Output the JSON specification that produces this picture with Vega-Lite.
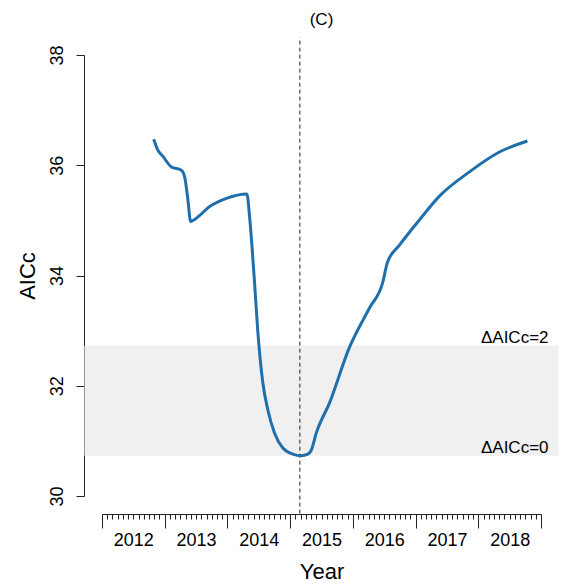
{
  "$schema": "https://vega.github.io/schema/vega-lite/v6.json",
  "width": 439,
  "height": 441,
  "autosize": {"type": "none"},
  "padding": {"left": 102, "top": 55, "right": 22, "bottom": 91},
  "title": {"text": "(C)", "fontSize": 17, "font": "Liberation Sans", "fontWeight": "normal", "color": "#000000", "offset": 8, "anchor": "middle"},
  "datasets": {
    "curve": [
      {"year": 2012.824, "aicc": 36.47},
      {"year": 2012.888, "aicc": 36.28},
      {"year": 2012.972, "aicc": 36.16},
      {"year": 2013.106, "aicc": 35.97},
      {"year": 2013.265, "aicc": 35.91},
      {"year": 2013.318, "aicc": 35.79},
      {"year": 2013.370, "aicc": 35.37},
      {"year": 2013.413, "aicc": 34.98},
      {"year": 2013.504, "aicc": 35.04},
      {"year": 2013.716, "aicc": 35.25},
      {"year": 2013.982, "aicc": 35.40},
      {"year": 2014.310, "aicc": 35.48},
      {"year": 2014.353, "aicc": 35.07},
      {"year": 2014.396, "aicc": 34.46},
      {"year": 2014.433, "aicc": 33.86},
      {"year": 2014.486, "aicc": 32.96},
      {"year": 2014.565, "aicc": 32.05},
      {"year": 2014.645, "aicc": 31.56},
      {"year": 2014.752, "aicc": 31.14},
      {"year": 2014.884, "aicc": 30.87},
      {"year": 2015.043, "aicc": 30.76},
      {"year": 2015.177, "aicc": 30.73},
      {"year": 2015.282, "aicc": 30.76},
      {"year": 2015.336, "aicc": 30.83},
      {"year": 2015.416, "aicc": 31.14},
      {"year": 2015.628, "aicc": 31.69},
      {"year": 2015.947, "aicc": 32.70},
      {"year": 2016.265, "aicc": 33.41},
      {"year": 2016.473, "aicc": 33.86},
      {"year": 2016.552, "aicc": 34.24},
      {"year": 2016.743, "aicc": 34.55},
      {"year": 2017.062, "aicc": 35.01},
      {"year": 2017.381, "aicc": 35.44},
      {"year": 2017.859, "aicc": 35.88},
      {"year": 2018.337, "aicc": 36.24},
      {"year": 2018.783, "aicc": 36.44}
    ],
    "bands": [
      {"label": "ΔAICc=0", "aicc": 30.73},
      {"label": "ΔAICc=2", "aicc": 32.73}
    ],
    "band": [
      {"lo": 30.73, "hi": 32.73}
    ],
    "best": [
      {"year": 2015.155}
    ]
  },
  "config": {
    "view": {"stroke": null},
    "font": "Liberation Sans",
    "axis": {"grid": false, "domainColor": "#222222", "tickColor": "#222222", "labelColor": "#000000", "titleColor": "#000000", "labelFont": "Liberation Sans", "titleFont": "Liberation Sans", "titleFontWeight": "normal"}
  },
  "resolve": {"scale": {"x": "shared", "y": "shared"}, "axis": {"x": "independent"}},
  "layer": [
    {
      "data": {"name": "band"},
      "mark": {"type": "rect", "color": "#f0f0f0"},
      "encoding": {
        "x": {"datum": 2011.72, "type": "quantitative", "scale": {"domain": [2012, 2019], "nice": false, "zero": false}, "axis": {"orient": "bottom", "offset": 18, "values": [2012, 2013, 2014, 2015, 2016, 2017, 2018, 2019], "tickSize": 14, "labels": false, "domain": true, "title": null}},
        "x2": {"datum": 2019.28},
        "y": {"field": "lo", "type": "quantitative", "title": "AICc", "scale": {"domain": [30, 38], "nice": false, "zero": false}, "axis": {"orient": "left", "offset": 18, "values": [30, 32, 34, 36, 38], "tickSize": 8, "labelAngle": -90, "labelAlign": "center", "labelBaseline": "bottom", "labelPadding": 10, "labelFontSize": 18, "titleFontSize": 22, "titlePadding": 9}},
        "y2": {"field": "hi"}
      }
    },
    {
      "data": {"name": "best"},
      "mark": {"type": "rule", "color": "#222222", "strokeWidth": 1, "strokeDash": [4, 3]},
      "encoding": {
        "x": {"field": "year", "type": "quantitative", "scale": {"domain": [2012, 2019], "nice": false, "zero": false}, "axis": {"orient": "bottom", "offset": 18, "values": [2012.0833, 2012.1667, 2012.25, 2012.3333, 2012.4167, 2012.5, 2012.5833, 2012.6667, 2012.75, 2012.8333, 2012.9167, 2013.0833, 2013.1667, 2013.25, 2013.3333, 2013.4167, 2013.5, 2013.5833, 2013.6667, 2013.75, 2013.8333, 2013.9167, 2014.0833, 2014.1667, 2014.25, 2014.3333, 2014.4167, 2014.5, 2014.5833, 2014.6667, 2014.75, 2014.8333, 2014.9167, 2015.0833, 2015.1667, 2015.25, 2015.3333, 2015.4167, 2015.5, 2015.5833, 2015.6667, 2015.75, 2015.8333, 2015.9167, 2016.0833, 2016.1667, 2016.25, 2016.3333, 2016.4167, 2016.5, 2016.5833, 2016.6667, 2016.75, 2016.8333, 2016.9167, 2017.0833, 2017.1667, 2017.25, 2017.3333, 2017.4167, 2017.5, 2017.5833, 2017.6667, 2017.75, 2017.8333, 2017.9167, 2018.0833, 2018.1667, 2018.25, 2018.3333, 2018.4167, 2018.5, 2018.5833, 2018.6667, 2018.75, 2018.8333, 2018.9167], "tickSize": 5, "labels": false, "domain": false, "title": null}},
        "y": {"datum": 29.68, "type": "quantitative", "title": "AICc", "scale": {"domain": [30, 38], "nice": false, "zero": false}, "axis": {"orient": "left", "offset": 18, "values": [30, 32, 34, 36, 38], "tickSize": 8, "labelAngle": -90, "labelAlign": "center", "labelBaseline": "bottom", "labelPadding": 10, "labelFontSize": 18, "titleFontSize": 22, "titlePadding": 9}},
        "y2": {"datum": 38.32}
      }
    },
    {
      "data": {"name": "curve"},
      "mark": {"type": "line", "color": "#1f6fad", "strokeWidth": 3, "interpolate": "monotone"},
      "encoding": {
        "x": {"field": "year", "type": "quantitative", "scale": {"domain": [2012, 2019], "nice": false, "zero": false}, "axis": {"orient": "bottom", "offset": 18, "values": [2012.5, 2013.5, 2014.5, 2015.5, 2016.5, 2017.5, 2018.5], "labelExpr": "floor(datum.value)", "ticks": false, "tickSize": 0, "domain": false, "labelPadding": 17, "labelFontSize": 18, "title": "Year", "titleFontSize": 22, "titlePadding": 12}},
        "y": {"field": "aicc", "type": "quantitative", "title": "AICc", "scale": {"domain": [30, 38], "nice": false, "zero": false}, "axis": {"orient": "left", "offset": 18, "values": [30, 32, 34, 36, 38], "tickSize": 8, "labelAngle": -90, "labelAlign": "center", "labelBaseline": "bottom", "labelPadding": 10, "labelFontSize": 18, "titleFontSize": 22, "titlePadding": 9}}
      }
    },
    {
      "data": {"name": "bands"},
      "mark": {"type": "text", "align": "right", "baseline": "alphabetic", "dy": -3, "fontSize": 17, "font": "Liberation Sans", "color": "#000000"},
      "encoding": {
        "x": {"datum": 2019.12, "type": "quantitative", "scale": {"domain": [2012, 2019], "nice": false, "zero": false}, "axis": null},
        "y": {"field": "aicc", "type": "quantitative", "title": "AICc", "scale": {"domain": [30, 38], "nice": false, "zero": false}, "axis": {"orient": "left", "offset": 18, "values": [30, 32, 34, 36, 38], "tickSize": 8, "labelAngle": -90, "labelAlign": "center", "labelBaseline": "bottom", "labelPadding": 10, "labelFontSize": 18, "titleFontSize": 22, "titlePadding": 9}},
        "text": {"field": "label"}
      }
    }
  ]
}
